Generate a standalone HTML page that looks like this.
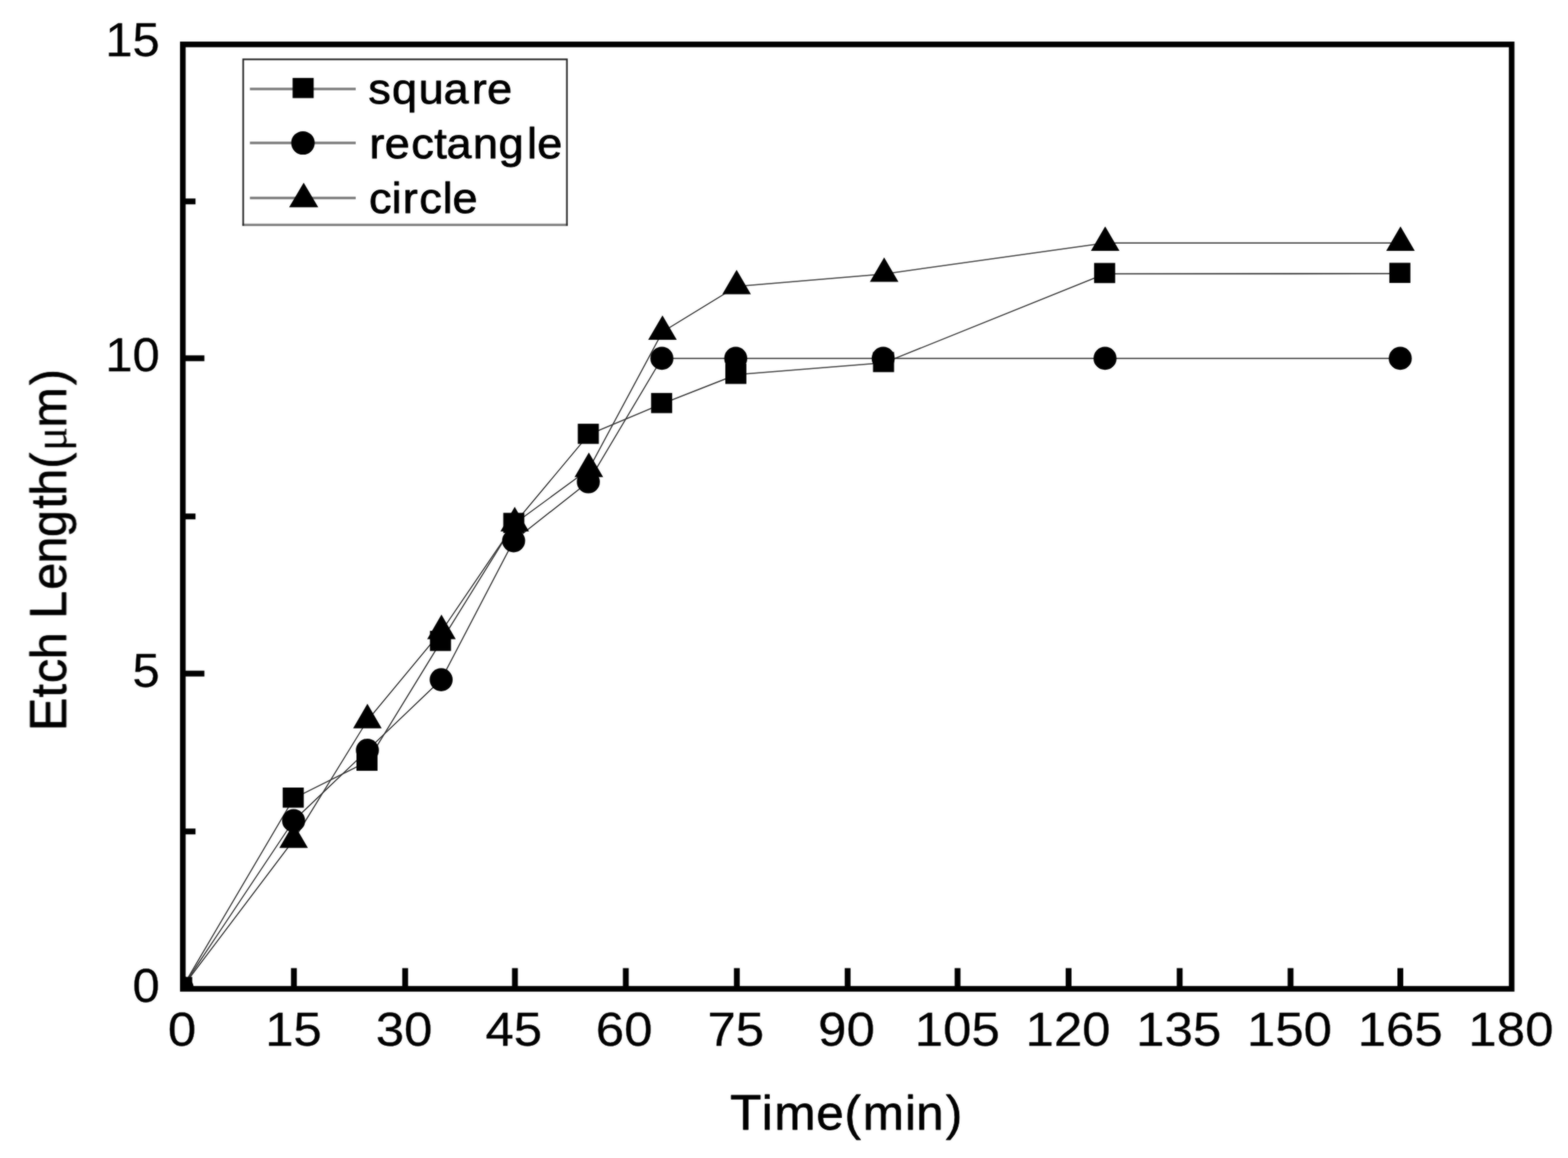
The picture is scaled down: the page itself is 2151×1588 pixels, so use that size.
<!DOCTYPE html>
<html lang="en">
<head>
<meta charset="utf-8">
<title>Etch Length - Time</title>
<style>
html, body { margin: 0; padding: 0; background: #fff; }
body { width: 2151px; height: 1588px; overflow: hidden; }
svg { display: block; }
text { font-family: "Liberation Sans", Arial, Helvetica, sans-serif; fill: #000; stroke: #000; stroke-width: 1px; stroke-linejoin: round; }
text.tk { stroke-width: 0.3px; }
text.ax { stroke-width: 0.8px; }
.mu { font-family: "Liberation Serif", "Times New Roman", serif; stroke: none; }
</style>
</head>
<body>
<svg width="2151" height="1588" viewBox="0 0 2151 1588">
<rect x="0" y="0" width="2151" height="1588" fill="#fff"/>

<defs><clipPath id="plot"><rect x="250.8" y="60.9" width="1822.9" height="1295.1"/></clipPath>
<filter id="soft" filterUnits="userSpaceOnUse" x="0" y="0" width="2151" height="1588" color-interpolation-filters="sRGB"><feGaussianBlur in="SourceGraphic" stdDeviation="0.8" result="b"/><feComposite in="b" in2="SourceGraphic" operator="arithmetic" k1="0" k2="0.55" k3="0.45" k4="0"/></filter></defs>
<g filter="url(#soft)">
<g clip-path="url(#plot)">
<g fill="none" stroke-width="1.55" stroke-linecap="round">
<line x1="249.8" y1="1354.6" x2="402.8" y2="1094.9" stroke="#303030"/>
<line x1="402.8" y1="1094.9" x2="504.0" y2="1044.3" stroke="#303030"/>
<line x1="504.0" y1="1044.3" x2="604.8" y2="880.0" stroke="#303030"/>
<line x1="604.8" y1="880.0" x2="705.4" y2="718.2" stroke="#303030"/>
<line x1="705.4" y1="718.2" x2="807.6" y2="596.0" stroke="#303030"/>
<line x1="807.6" y1="596.0" x2="908.2" y2="553.8" stroke="#303030"/>
<line x1="908.2" y1="553.8" x2="1010.0" y2="513.8" stroke="#303030"/>
<line x1="1010.0" y1="513.8" x2="1212.6" y2="497.6" stroke="#303030"/>
<line x1="1212.6" y1="497.6" x2="1515.9" y2="375.5" stroke="#303030"/>
<line x1="1515.9" y1="375.5" x2="1920.9" y2="375.3" stroke="#1c1c1c"/>
<line x1="249.8" y1="1354.6" x2="402.8" y2="1125.4" stroke="#303030"/>
<line x1="402.8" y1="1125.4" x2="504.0" y2="1028.8" stroke="#303030"/>
<line x1="504.0" y1="1028.8" x2="605.2" y2="932.1" stroke="#303030"/>
<line x1="605.2" y1="932.1" x2="704.6" y2="741.6" stroke="#303030"/>
<line x1="704.6" y1="741.6" x2="807.1" y2="660.8" stroke="#303030"/>
<line x1="807.1" y1="660.8" x2="908.0" y2="491.4" stroke="#303030"/>
<line x1="908.0" y1="491.4" x2="1009.3" y2="491.4" stroke="#1c1c1c"/>
<line x1="1009.3" y1="491.4" x2="1211.6" y2="491.4" stroke="#1c1c1c"/>
<line x1="1211.6" y1="491.4" x2="1515.9" y2="491.4" stroke="#1c1c1c"/>
<line x1="1515.9" y1="491.4" x2="1920.9" y2="491.4" stroke="#1c1c1c"/>
<line x1="249.8" y1="1354.6" x2="402.8" y2="1152.0" stroke="#303030"/>
<line x1="402.8" y1="1152.0" x2="504.0" y2="987.9" stroke="#303030"/>
<line x1="504.0" y1="987.9" x2="605.6" y2="865.6" stroke="#303030"/>
<line x1="605.6" y1="865.6" x2="706.1" y2="717.9" stroke="#303030"/>
<line x1="706.1" y1="717.9" x2="807.8" y2="643.4" stroke="#303030"/>
<line x1="807.8" y1="643.4" x2="908.8" y2="455.2" stroke="#303030"/>
<line x1="908.8" y1="455.2" x2="1010.5" y2="392.8" stroke="#303030"/>
<line x1="1010.5" y1="392.8" x2="1212.9" y2="375.7" stroke="#303030"/>
<line x1="1212.9" y1="375.7" x2="1516.1" y2="333.2" stroke="#303030"/>
<line x1="1516.1" y1="333.2" x2="1921.2" y2="333.2" stroke="#1c1c1c"/>
</g>
<g fill="#000">
<rect x="234.8" y="1339.7" width="28.9" height="27.6"/>
<rect x="387.8" y="1080.0" width="28.9" height="27.6"/>
<rect x="489.0" y="1029.4" width="28.9" height="27.6"/>
<rect x="589.8" y="865.1" width="28.9" height="27.6"/>
<rect x="690.4" y="703.3" width="28.9" height="27.6"/>
<rect x="792.6" y="581.1" width="28.9" height="27.6"/>
<rect x="893.2" y="538.9" width="28.9" height="27.6"/>
<rect x="995.0" y="498.9" width="28.9" height="27.6"/>
<rect x="1197.6" y="482.7" width="28.9" height="27.6"/>
<rect x="1500.9" y="360.6" width="28.9" height="27.6"/>
<rect x="1905.9" y="360.4" width="28.9" height="27.6"/>
<circle cx="249.8" cy="1354.6" r="15.8"/>
<circle cx="402.8" cy="1125.4" r="15.8"/>
<circle cx="504.0" cy="1028.8" r="15.8"/>
<circle cx="605.2" cy="932.1" r="15.8"/>
<circle cx="704.6" cy="741.6" r="15.8"/>
<circle cx="807.1" cy="660.8" r="15.8"/>
<circle cx="908.0" cy="491.4" r="15.8"/>
<circle cx="1009.3" cy="491.4" r="15.8"/>
<circle cx="1211.6" cy="491.4" r="15.8"/>
<circle cx="1515.9" cy="491.4" r="15.8"/>
<circle cx="1920.9" cy="491.4" r="15.8"/>
<polygon points="249.8,1331.8 269.4,1365.4 230.2,1365.4"/>
<polygon points="402.8,1129.2 422.4,1162.8 383.2,1162.8"/>
<polygon points="504.0,965.1 523.6,998.7 484.4,998.7"/>
<polygon points="605.6,842.8 625.2,876.4 586.0,876.4"/>
<polygon points="706.1,695.1 725.7,728.7 686.5,728.7"/>
<polygon points="807.8,620.6 827.4,654.2 788.2,654.2"/>
<polygon points="908.8,432.4 928.4,466.0 889.2,466.0"/>
<polygon points="1010.5,370.0 1030.1,403.6 990.9,403.6"/>
<polygon points="1212.9,352.9 1232.5,386.5 1193.3,386.5"/>
<polygon points="1516.1,310.4 1535.7,344.0 1496.5,344.0"/>
<polygon points="1921.2,310.4 1940.8,344.0 1901.6,344.0"/>
</g>
</g>
<rect x="250.8" y="60.9" width="1822.9" height="1295.1" fill="none" stroke="#000" stroke-width="7.7"/>
<g stroke="#000" stroke-width="8" stroke-linecap="butt">
<line x1="403.2" y1="1356.0" x2="403.2" y2="1327.6"/>
<line x1="555.8" y1="1356.0" x2="555.8" y2="1327.6"/>
<line x1="706.4" y1="1356.0" x2="706.4" y2="1327.6"/>
<line x1="858.5" y1="1356.0" x2="858.5" y2="1327.6"/>
<line x1="1010.8" y1="1356.0" x2="1010.8" y2="1327.6"/>
<line x1="1162.8" y1="1356.0" x2="1162.8" y2="1327.6"/>
<line x1="1313.6" y1="1356.0" x2="1313.6" y2="1327.6"/>
<line x1="1465.9" y1="1356.0" x2="1465.9" y2="1327.6"/>
<line x1="1618.3" y1="1356.0" x2="1618.3" y2="1327.6"/>
<line x1="1770.4" y1="1356.0" x2="1770.4" y2="1327.6"/>
<line x1="1921.0" y1="1356.0" x2="1921.0" y2="1327.6"/>
<line x1="250.8" y1="923.7" x2="280.4" y2="923.7"/>
<line x1="250.8" y1="491.3" x2="280.4" y2="491.3"/>
<line x1="250.8" y1="1140.2" x2="268.2" y2="1140.2"/>
<line x1="250.8" y1="708.2" x2="268.2" y2="708.2"/>
<line x1="250.8" y1="276.2" x2="268.2" y2="276.2"/>
</g>
<text transform="translate(249.6,1434.0) scale(1.080,1)" font-size="64.8" text-anchor="middle" class="tk">0</text>
<text transform="translate(402.6,1434.0) scale(1.080,1)" font-size="64.8" text-anchor="middle" class="tk">15</text>
<text transform="translate(554.3,1434.0) scale(1.080,1)" font-size="64.8" text-anchor="middle" class="tk">30</text>
<text transform="translate(704.8,1434.0) scale(1.080,1)" font-size="64.8" text-anchor="middle" class="tk">45</text>
<text transform="translate(856.2,1434.0) scale(1.080,1)" font-size="64.8" text-anchor="middle" class="tk">60</text>
<text transform="translate(1009.3,1434.0) scale(1.080,1)" font-size="64.8" text-anchor="middle" class="tk">75</text>
<text transform="translate(1161.2,1434.0) scale(1.080,1)" font-size="64.8" text-anchor="middle" class="tk">90</text>
<text transform="translate(1313.2,1434.0) scale(1.080,1)" font-size="64.8" text-anchor="middle" class="tk">105</text>
<text transform="translate(1465.1,1434.0) scale(1.080,1)" font-size="64.8" text-anchor="middle" class="tk">120</text>
<text transform="translate(1617.0,1434.0) scale(1.080,1)" font-size="64.8" text-anchor="middle" class="tk">135</text>
<text transform="translate(1768.9,1434.0) scale(1.080,1)" font-size="64.8" text-anchor="middle" class="tk">150</text>
<text transform="translate(1920.8,1434.0) scale(1.080,1)" font-size="64.8" text-anchor="middle" class="tk">165</text>
<text transform="translate(2072.7,1434.0) scale(1.080,1)" font-size="64.8" text-anchor="middle" class="tk">180</text>
<text transform="translate(219.1,1374.0) scale(1.030,1)" font-size="65.2" text-anchor="end" class="tk">0</text>
<text transform="translate(219.1,941.6) scale(1.030,1)" font-size="65.2" text-anchor="end" class="tk">5</text>
<text transform="translate(219.1,509.3) scale(1.030,1)" font-size="65.2" text-anchor="end" class="tk">10</text>
<text transform="translate(219.1,76.8) scale(1.030,1)" font-size="65.2" text-anchor="end" class="tk">15</text>
<text transform="translate(0,1548.6) scale(1.020,1)" font-size="66.5" x="981.93 1024.49 1041.40 1097.85 1135.69 1160.33 1217.14 1232.24 1271.97" y="0" class="ax"><tspan font-size="69.2">T</tspan>ime(min)</text>
<text transform="translate(90.5,0) rotate(-90) scale(0.970,1)" font-size="68.5" x="-1033.60 -985.97 -965.72 -932.19 -896.11 -875.05 -833.83 -796.62 -759.31 -719.06 -700.75 -662.61 -637.43 -604.53 -544.43" y="0" class="ax"><tspan font-size="71.2">E</tspan>tch <tspan font-size="71.2">L</tspan>ength(<tspan class="mu" font-size="63.0">&#956;</tspan>m)</text>
<rect x="333.6" y="81.3" width="444.1" height="227.0" fill="#fff"/>
<line x1="332.5" y1="308.3" x2="778.8" y2="308.3" stroke="#808080" stroke-width="3.3"/>
<polyline points="333.6,309.4 333.6,81.3 777.7,81.3 777.7,309.4" fill="none" stroke="#202020" stroke-width="2.2"/>
<g stroke="#7c7c7c" stroke-width="3.3">
<line x1="342.8" y1="122.0" x2="488" y2="122.0"/>
<line x1="342.8" y1="196.0" x2="488" y2="196.0"/>
<line x1="342.8" y1="271.5" x2="488" y2="271.5"/>
</g>
<g fill="#000">
<rect x="401.4" y="106.9" width="28.9" height="27.6"/>
<circle cx="415.6" cy="196.0" r="16.1"/>
<polygon points="416.6,250.6 436.6,284.2 396.6,284.2"/>
</g>
<g>
<text transform="translate(0,141.5) scale(1.030,1)" font-size="60.0" x="490.59 522.03 557.53 590.68 628.42 648.71" y="0">square</text>
<text transform="translate(0,217.2) scale(1.030,1)" font-size="60.0" x="492.01 512.45 547.82 578.32 594.57 629.97 664.09 702.06 715.61" y="0">rectangle</text>
<text transform="translate(0,292.2) scale(1.030,1)" font-size="60.0" x="491.41 521.55 536.48 558.40 589.53 602.60" y="0">circle</text>
</g>
</g>
</svg>
</body>
</html>
